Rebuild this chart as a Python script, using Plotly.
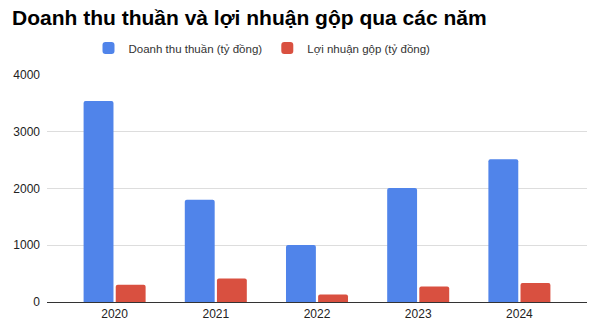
import plotly.graph_objects as go

years = ["2020", "2021", "2022", "2023", "2024"]
doanh_thu = [3540, 1800, 1005, 2010, 2515]
loi_nhuan = [305, 415, 130, 275, 335]
series_names = ["Doanh thu thuần (tỷ đồng)", "Lợi nhuận gộp (tỷ đồng)"]
y_ticks = [0, 1000, 2000, 3000, 4000]

fig = go.Figure()
fig.add_trace(go.Bar(x=years, y=doanh_thu, name=series_names[0],
                     marker=dict(color="#5084EA", cornerradius=2, line=dict(width=0))))
fig.add_trace(go.Bar(x=years, y=loi_nhuan, name=series_names[1],
                     marker=dict(color="#D95040", cornerradius=2, line=dict(width=0))))

fig.update_layout(
    width=602, height=331,
    margin=dict(l=47, r=15, t=75, b=29),
    paper_bgcolor="white", plot_bgcolor="white",
    font=dict(family="Liberation Sans, Arial, sans-serif", color="#222"),
    title=dict(text="<b>Doanh thu thuần và lợi nhuận gộp qua các năm</b>",
               x=12/602, xanchor="left", y=1-18/331, yanchor="middle",
               font=dict(size=21, color="#000")),
    barmode="group", bargap=0.365, bargroupgap=0.07,
    showlegend=True,
    legend=dict(orientation="h", x=(262 - 47) / 540, xanchor="center", y=(302 - 48) / 227,
                yanchor="middle", font=dict(size=11.5, color="#333"),
                itemwidth=30, tracegroupgap=0),
    xaxis=dict(type="category", range=[-0.668, 4.668], showgrid=False,
               tickfont=dict(size=12, color="#222"), ticks="", showline=False,
               ticklabelstandoff=3, automargin=False),
    yaxis=dict(range=[0, 4000], tickvals=y_ticks, gridcolor="#DDDDDD", gridwidth=1,
               zeroline=True, zerolinecolor="#333", zerolinewidth=1,
               tickfont=dict(size=12, color="#222"), ticks="", ticklabelstandoff=6,
               automargin=False),
)
fig.write_html("out.html")
